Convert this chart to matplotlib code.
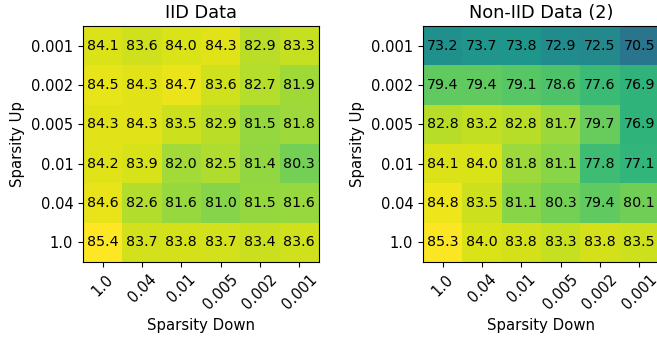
import numpy as np
import matplotlib
matplotlib.use("Agg")
import matplotlib.pyplot as plt

sparsity_up = ["0.001", "0.002", "0.005", "0.01", "0.04", "1.0"]
sparsity_down = ["1.0", "0.04", "0.01", "0.005", "0.002", "0.001"]

iid_acc = [
    [84.1, 83.6, 84.0, 84.3, 82.9, 83.3],
    [84.5, 84.3, 84.7, 83.6, 82.7, 81.9],
    [84.3, 84.3, 83.5, 82.9, 81.5, 81.8],
    [84.2, 83.9, 82.0, 82.5, 81.4, 80.3],
    [84.6, 82.6, 81.6, 81.0, 81.5, 81.6],
    [85.4, 83.7, 83.8, 83.7, 83.4, 83.6],
]

noniid_acc = [
    [73.2, 73.7, 73.8, 72.9, 72.5, 70.5],
    [79.4, 79.4, 79.1, 78.6, 77.6, 76.9],
    [82.8, 83.2, 82.8, 81.7, 79.7, 76.9],
    [84.1, 84.0, 81.8, 81.1, 77.8, 77.1],
    [84.8, 83.5, 81.1, 80.3, 79.4, 80.1],
    [85.3, 84.0, 83.8, 83.3, 83.8, 83.5],
]

titles = ["IID Data", "Non-IID Data (2)"]

fig = plt.figure(figsize=(6.57, 3.41), dpi=100)
ax1 = fig.add_axes([0.1263, 0.2317, 0.3592, 0.692])
ax2 = fig.add_axes([0.6438, 0.2317, 0.3592, 0.692])

for ax, data, title in zip([ax1, ax2], [iid_acc, noniid_acc], titles):
    arr = np.array(data)
    ax.imshow(arr, cmap="viridis", vmin=61, vmax=85.4, aspect="auto")
    for i in range(arr.shape[0]):
        for j in range(arr.shape[1]):
            ax.text(j, i, f"{arr[i, j]:.1f}", ha="center", va="center", fontsize=10.3, color="black")
    ax.set_xticks(range(len(sparsity_down)))
    ax.set_xticklabels(sparsity_down, rotation=45, fontsize=10.5)
    ax.set_yticks(range(len(sparsity_up)))
    ax.set_yticklabels(sparsity_up, fontsize=10.5)
    ax.set_xlabel("Sparsity Down", fontsize=10.7)
    ax.set_ylabel("Sparsity Up", fontsize=10.7)
    ax.set_title(title, fontsize=12.8)

fig.savefig("out.png", dpi=100)
